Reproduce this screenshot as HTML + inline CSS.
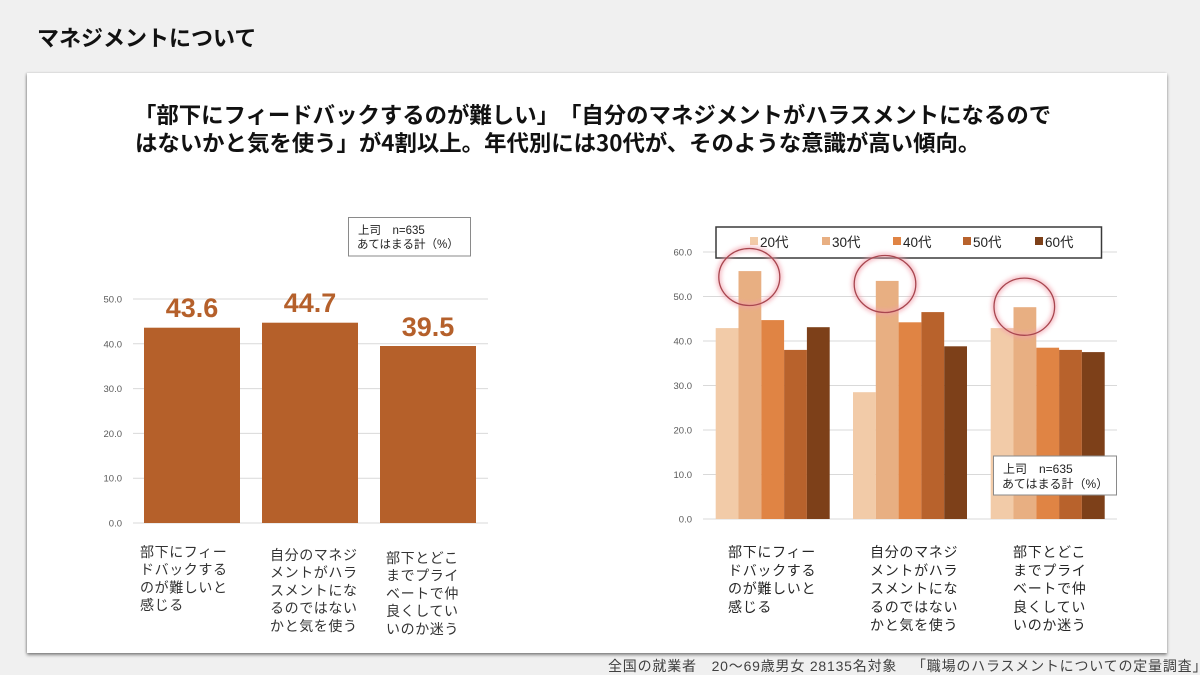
<!DOCTYPE html>
<html><head><meta charset="utf-8">
<style>
html,body{margin:0;padding:0;}
*{text-spacing-trim:space-all;}
body{width:1200px;height:675px;background:#f0f0f0;position:relative;overflow:hidden;font-family:"Liberation Sans","Noto Sans CJK JP",sans-serif;}
.card{position:absolute;left:27px;top:73px;width:1140px;height:580px;background:#fff;box-shadow:0 2px 3px rgba(0,0,0,0.45),-1px 0 2px rgba(0,0,0,0.15);}
svg{position:absolute;left:0;top:0;}
svg text{text-spacing-trim:space-all;}
</style></head>
<body>
<div class="card"></div>
<svg width="1200" height="675" viewBox="0 0 1200 675" xmlns="http://www.w3.org/2000/svg">
<defs>
<filter id="glow" x="-30%" y="-30%" width="160%" height="160%"><feGaussianBlur stdDeviation="2"/></filter>
</defs>
<!-- page title -->
<text x="37" y="46" font-family="'Liberation Sans','Noto Sans CJK JP',sans-serif" font-size="22" font-weight="bold" fill="#111">マネジメントについて</text>
<!-- heading -->
<g font-family="'Noto Sans CJK JP','Liberation Sans',sans-serif" font-size="22.4" font-weight="bold" fill="#111">
<text x="134" y="123">「部下にフィードバックするのが難しい」「自分のマネジメントがハラスメントになるので</text>
<text x="135" y="151">はないかと気を使う」が4割以上。年代別には30代が、そのような意識が高い傾向。</text>
</g>

<!-- LEFT CHART -->
<g stroke="#d9d9d9" stroke-width="1">
<line x1="133" y1="523" x2="488" y2="523"/>
<line x1="133" y1="478.2" x2="488" y2="478.2"/>
<line x1="133" y1="433.4" x2="488" y2="433.4"/>
<line x1="133" y1="388.6" x2="488" y2="388.6"/>
<line x1="133" y1="343.8" x2="488" y2="343.8"/>
<line x1="133" y1="299" x2="488" y2="299"/>
</g>
<g font-family="'Liberation Sans',sans-serif" font-size="9.5" fill="#595959" text-anchor="end">
<text x="122" y="526.5">0.0</text>
<text x="122" y="481.7">10.0</text>
<text x="122" y="436.9">20.0</text>
<text x="122" y="392.1">30.0</text>
<text x="122" y="347.3">40.0</text>
<text x="122" y="302.5">50.0</text>
</g>
<g fill="#b5602a">
<rect x="144" y="327.7" width="96" height="195.3"/>
<rect x="262" y="322.7" width="96" height="200.3"/>
<rect x="380" y="346" width="96" height="177"/>
</g>
<g font-family="'Liberation Sans',sans-serif" font-size="27" font-weight="bold" fill="#b5602b" text-anchor="middle">
<text x="192" y="317">43.6</text>
<text x="310" y="312">44.7</text>
<text x="428" y="336">39.5</text>
</g>
<rect x="348.5" y="217.5" width="122" height="38.5" fill="#fff" stroke="#8a8a8a" stroke-width="1"/>
<g font-family="'Liberation Sans','Noto Sans CJK JP',sans-serif" font-size="11.5" fill="#222">
<text x="358" y="234">上司　n=635</text>
<text x="357" y="248">あてはまる計（%）</text>
</g>
<g font-family="'Liberation Sans','Noto Sans CJK JP',sans-serif" font-size="14" fill="#333" letter-spacing="0.6">
<text x="140" y="557">部下にフィー</text>
<text x="140" y="574.7">ドバックする</text>
<text x="140" y="592.4">のが難しいと</text>
<text x="140" y="610.1">感じる</text>
<text x="270" y="560">自分のマネジ</text>
<text x="270" y="577.7">メントがハラ</text>
<text x="270" y="595.4">スメントにな</text>
<text x="270" y="613.1">るのではない</text>
<text x="270" y="630.8">かと気を使う</text>
<text x="386" y="563">部下とどこ</text>
<text x="386" y="580.7">までプライ</text>
<text x="386" y="598.4">ベートで仲</text>
<text x="386" y="616.1">良くしてい</text>
<text x="386" y="633.8">いのか迷う</text>
</g>

<!-- RIGHT CHART -->
<g stroke="#d9d9d9" stroke-width="1">
<line x1="703" y1="519" x2="1117" y2="519"/>
<line x1="703" y1="474.5" x2="1117" y2="474.5"/>
<line x1="703" y1="430" x2="1117" y2="430"/>
<line x1="703" y1="385.5" x2="1117" y2="385.5"/>
<line x1="703" y1="341" x2="1117" y2="341"/>
<line x1="703" y1="296.5" x2="1117" y2="296.5"/>
<line x1="703" y1="252" x2="1117" y2="252"/>
</g>
<g font-family="'Liberation Sans',sans-serif" font-size="9.5" fill="#595959" text-anchor="end">
<text x="692" y="522.5">0.0</text>
<text x="692" y="478">10.0</text>
<text x="692" y="433.5">20.0</text>
<text x="692" y="389">30.0</text>
<text x="692" y="344.5">40.0</text>
<text x="692" y="300">50.0</text>
<text x="692" y="255.5">60.0</text>
</g>
<!-- group 1 -->
<rect x="715.7" y="328.1" width="22.8" height="190.9" fill="#f2cba8"/>
<rect x="738.5" y="271.1" width="22.8" height="247.9" fill="#e8af82"/>
<rect x="761.3" y="320.1" width="22.8" height="198.9" fill="#e08444"/>
<rect x="784.1" y="349.9" width="22.8" height="169.1" fill="#b8622c"/>
<rect x="806.9" y="327.2" width="22.8" height="191.8" fill="#7d4019"/>
<!-- group 2 -->
<rect x="853" y="392.2" width="22.8" height="126.8" fill="#f2cba8"/>
<rect x="875.8" y="280.9" width="22.8" height="238.1" fill="#e8af82"/>
<rect x="898.6" y="322.3" width="22.8" height="196.7" fill="#e08444"/>
<rect x="921.4" y="312.1" width="22.8" height="206.9" fill="#b8622c"/>
<rect x="944.2" y="346.3" width="22.8" height="172.7" fill="#7d4019"/>
<!-- group 3 -->
<rect x="990.7" y="328.1" width="22.8" height="190.9" fill="#f2cba8"/>
<rect x="1013.5" y="307.2" width="22.8" height="211.8" fill="#e8af82"/>
<rect x="1036.3" y="347.7" width="22.8" height="171.3" fill="#e08444"/>
<rect x="1059.1" y="349.9" width="22.8" height="169.1" fill="#b8622c"/>
<rect x="1081.9" y="352.1" width="22.8" height="166.9" fill="#7d4019"/>

<!-- legend -->
<rect x="716" y="227" width="385.5" height="31" fill="#fff" stroke="#3a3a3a" stroke-width="1.5"/>
<g font-family="'Liberation Sans','Noto Sans CJK JP',sans-serif" font-size="13.5" fill="#222">
<rect x="750" y="237" width="8" height="8" fill="#f2cba8"/><text x="760" y="247">20代</text>
<rect x="822" y="237" width="8" height="8" fill="#e8af82"/><text x="832" y="247">30代</text>
<rect x="893" y="237" width="8" height="8" fill="#e08444"/><text x="903" y="247">40代</text>
<rect x="963" y="237" width="8" height="8" fill="#b8622c"/><text x="973" y="247">50代</text>
<rect x="1035" y="237" width="8" height="8" fill="#7d4019"/><text x="1045" y="247">60代</text>
</g>

<!-- circles -->
<g fill="none">
<g stroke="#f2a0ac" stroke-width="5" opacity="0.7" filter="url(#glow)">
<ellipse cx="749.3" cy="277" rx="30.5" ry="28.5"/>
<ellipse cx="885" cy="284" rx="30.8" ry="28.5"/>
<ellipse cx="1024.3" cy="306.7" rx="30.3" ry="28.6"/>
</g>
<g stroke="#a8464f" stroke-width="1.3">
<ellipse cx="749.3" cy="277" rx="30.5" ry="28.5"/>
<ellipse cx="885" cy="284" rx="30.8" ry="28.5"/>
<ellipse cx="1024.3" cy="306.7" rx="30.3" ry="28.6"/>
</g>
</g>

<!-- inner note box -->
<rect x="993.5" y="456" width="123" height="39" fill="#fff" stroke="#8a8a8a" stroke-width="1"/>
<g font-family="'Liberation Sans','Noto Sans CJK JP',sans-serif" font-size="12" fill="#222">
<text x="1003" y="473">上司　n=635</text>
<text x="1002" y="488">あてはまる計（%）</text>
</g>

<g font-family="'Liberation Sans','Noto Sans CJK JP',sans-serif" font-size="14" fill="#262626" letter-spacing="0.7">
<text x="728" y="557">部下にフィー</text>
<text x="728" y="575.3">ドバックする</text>
<text x="728" y="593.6">のが難しいと</text>
<text x="728" y="611.9">感じる</text>
<text x="870" y="557">自分のマネジ</text>
<text x="870" y="575.3">メントがハラ</text>
<text x="870" y="593.6">スメントにな</text>
<text x="870" y="611.9">るのではない</text>
<text x="870" y="630.2">かと気を使う</text>
<text x="1013" y="557">部下とどこ</text>
<text x="1013" y="575.3">までプライ</text>
<text x="1013" y="593.6">ベートで仲</text>
<text x="1013" y="611.9">良くしてい</text>
<text x="1013" y="630.2">いのか迷う</text>
</g>

<!-- footnote -->
<text x="608" y="671" font-family="'Liberation Sans','Noto Sans CJK JP',sans-serif" font-size="14" fill="#404040" letter-spacing="0.8">全国の就業者　20〜69歳男女 28135名対象　「職場のハラスメントについての定量調査」</text>
</svg>
</body></html>
